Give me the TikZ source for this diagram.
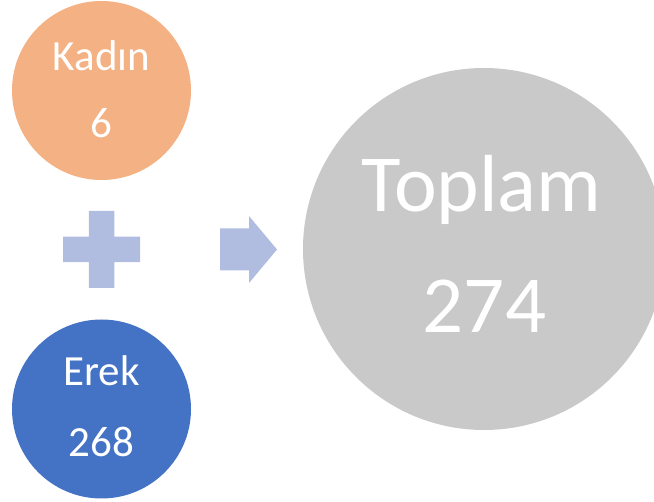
\documentclass[tikz,border=0pt]{standalone}
\usepackage{fontspec}
\setmainfont{Carlito}
\usepackage{xcolor}
\usetikzlibrary{shapes,backgrounds,calc}
\definecolor{kadincol}{HTML}{F4B183}
\definecolor{erekcol}{HTML}{4472C4}
\definecolor{toplamcol}{HTML}{C9C9C9}
\definecolor{signcol}{HTML}{B0BDE0}

\begin{document}
\begin{tikzpicture}[x=1pt,y=-1pt]
        \tikzstyle{disk}=[circle, inner sep=0pt, draw=none];
        \tikzstyle{txt}=[anchor=base, text=white, inner sep=0pt];
        \tikzstyle{small}=[txt, font=\fontsize{43}{43}\selectfont];
        \tikzstyle{big}=[txt, font=\fontsize{81}{81}\selectfont];
        \useasboundingbox (0,0) rectangle (654,502);
        \clip (0,0) rectangle (654,502);

        % Kadın circle at the top left
        \node[disk, fill=kadincol, minimum size=179pt] (kadin) at (101.5,90.5) {};
        \node[small] (kadinname) at (101.5,71) {Kadın};
        \node[small] (kadinnum) at (101.5,138) {6};

        % Erek circle at the bottom left
        \node[disk, fill=erekcol, minimum size=179pt] (erek) at (101.5,409) {};
        \node[small] (erekname) at (101.5,386) {Erek};
        \node[small] (ereknum) at (101.5,457) {268};

        % the plus sign between them
        \coordinate (P) at (101.5,249.5);
        \fill[signcol] ($(P)+(-38.5,-12.75)$) -- ($(P)+(-12.75,-12.75)$) -- ($(P)+(-12.75,-38.5)$)
            -- ($(P)+(12.75,-38.5)$) -- ($(P)+(12.75,-12.75)$) -- ($(P)+(38.5,-12.75)$)
            -- ($(P)+(38.5,12.75)$) -- ($(P)+(12.75,12.75)$) -- ($(P)+(12.75,38.5)$)
            -- ($(P)+(-12.75,38.5)$) -- ($(P)+(-12.75,12.75)$) -- ($(P)+(-38.5,12.75)$) -- cycle;

        % the arrow pointing to the total
        \coordinate (R) at (220,249.5);
        \fill[signcol] ($(R)+(0,-21)$) -- ($(R)+(29,-21)$) -- ($(R)+(29,-33.5)$) -- ($(R)+(57,0)$)
            -- ($(R)+(29,33.5)$) -- ($(R)+(29,21)$) -- ($(R)+(0,21)$) -- cycle;

        % Toplam circle on the right
        \node[disk, fill=toplamcol, minimum size=362pt] (toplam) at (484,249) {};
        \node[big] (toplamname) at (481.5,212) {Toplam};
        \node[big] (toplamnum) at (484.5,333) {274};
    \end{tikzpicture}
\end{document}
